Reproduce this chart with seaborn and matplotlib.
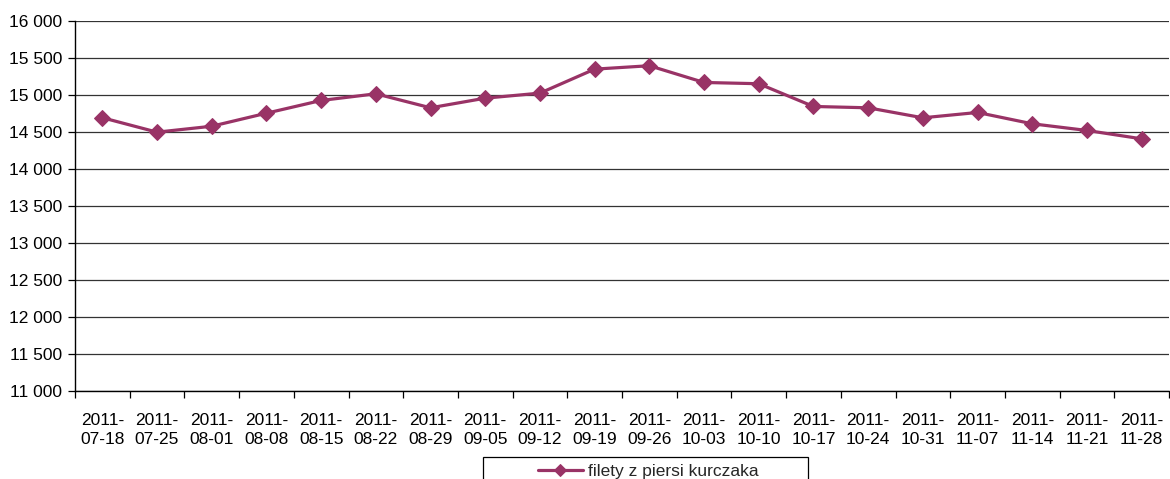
import matplotlib
matplotlib.use("Agg")
import matplotlib.pyplot as plt
import seaborn as sns
import pandas as pd
from matplotlib.ticker import FuncFormatter, FixedLocator
from matplotlib.patches import Rectangle

dates = ["2011-07-18", "2011-07-25", "2011-08-01", "2011-08-08", "2011-08-15",
         "2011-08-22", "2011-08-29", "2011-09-05", "2011-09-12", "2011-09-19",
         "2011-09-26", "2011-10-03", "2011-10-10", "2011-10-17", "2011-10-24",
         "2011-10-31", "2011-11-07", "2011-11-14", "2011-11-21", "2011-11-28"]
values = [14690, 14495, 14575, 14751, 14923, 15013, 14824, 14954, 15022, 15346,
          15392, 15166, 15149, 14842, 14824, 14689, 14761, 14608, 14518, 14405]
series_name = "filety z piersi kurczaka"
tick_labels = [d[:5] + "\n" + d[5:] for d in dates]

sns.set_style("white")
plt.rcParams['font.family'] = ['Liberation Sans', 'DejaVu Sans']

df = pd.DataFrame({"pos": list(range(len(dates))), "value": values, "series": series_name})

fig = plt.figure(figsize=(11.7, 4.79), dpi=100)
ax = fig.add_axes([75/1170, 1 - 391/479, (1169 - 75)/1170, (391 - 20.7)/479])

color = "#993366"
sns.lineplot(data=df, x="pos", y="value", ax=ax, color=color, linewidth=2.3,
             marker="D", markersize=8.5, markeredgecolor=color, sort=False,
             legend=False, label=series_name)

fs = 12.5
ax.set_xlim(-0.5, len(dates) - 0.5)
ax.set_ylim(11000, 16000)
ax.set_yticks(range(11000, 16001, 500))
ax.yaxis.set_major_formatter(FuncFormatter(lambda v, p: f"{v:,.0f}".replace(",", " ")))
ax.grid(axis="y", color="#333333", linewidth=0.9)
ax.set_axisbelow(True)

ax.set_xticks(range(len(dates)))
ax.set_xticklabels(tick_labels, linespacing=1.38)
ax.xaxis.set_minor_locator(FixedLocator([i - 0.5 for i in range(len(dates) + 1)]))
ax.tick_params(axis="x", which="major", length=0, pad=15.5, labelsize=fs, colors="black")
ax.tick_params(axis="x", which="minor", length=5, width=0.9, direction="out", color="black", bottom=True)
ax.tick_params(axis="y", which="major", length=5, width=0.9, direction="out", left=True,
               pad=4, labelsize=fs, colors="black")

ax.set_xlabel("")
ax.set_ylabel("")
for s in ["top", "right"]:
    ax.spines[s].set_visible(False)
for s in ["left", "bottom"]:
    ax.spines[s].set_color("black")
    ax.spines[s].set_linewidth(1.0)

# legend frame (Excel-style box, clipped by the figure bottom)
fig.patches.append(Rectangle((483/1170, 1 - 490/479), (808 - 483)/1170, (490 - 457)/479,
                             transform=fig.transFigure, fill=False, edgecolor="black",
                             linewidth=0.9))
handles, labels = ax.get_legend_handles_labels()
leg = fig.legend(handles, labels, loc="center",
                 bbox_to_anchor=(648/1170, 1 - 471/479), frameon=False,
                 fontsize=fs, handlelength=2.6, handletextpad=0.3,
                 markerscale=0.7, borderpad=0, borderaxespad=0)

fig.savefig("out.png", dpi=100)
